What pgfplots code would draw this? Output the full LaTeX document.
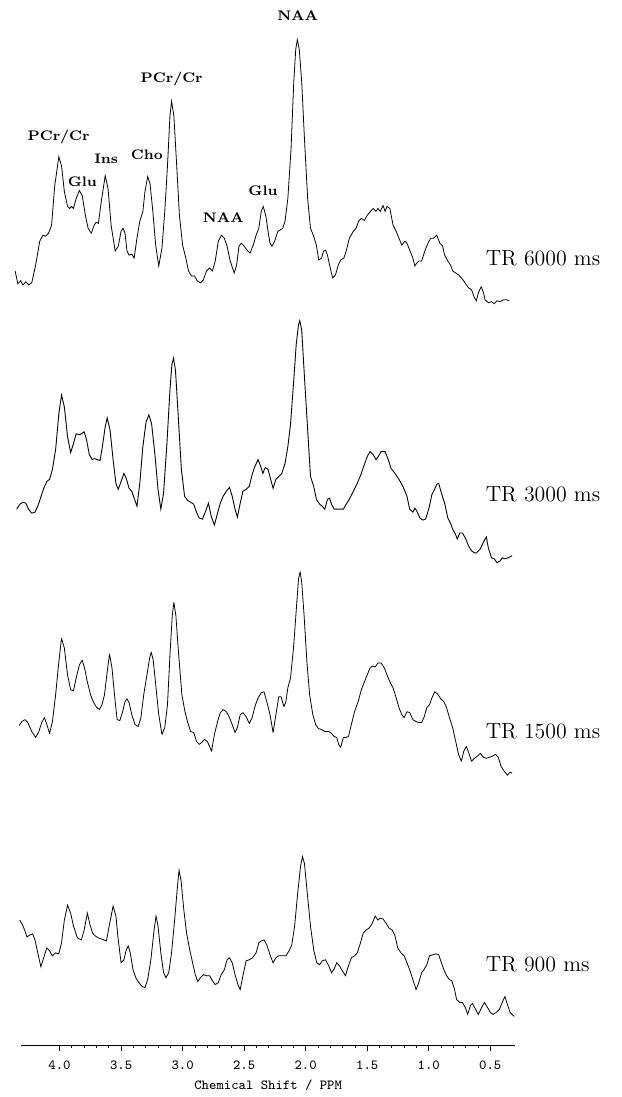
\documentclass[border=0pt]{standalone}
\usepackage{pgfplots}
\pgfplotsset{compat=1.18}
\usepackage{pgfplotstable}

% spectra: chemical shift (ppm) vs. intensity (arbitrary, stacked)
\pgfplotstableread{
ppm I
4.361 824
4.339 811
4.316 814
4.297 810
4.274 813
4.252 810
4.226 812
4.194 830
4.161 854
4.135 860
4.113 859
4.090 862
4.065 870
4.039 910
4.006 939
3.984 930
3.961 904
3.935 889
3.919 887
3.903 889
3.887 887
3.865 897
3.839 905
3.816 900
3.790 880
3.768 867
3.742 862
3.719 870
3.703 873
3.684 872
3.661 894
3.629 920
3.606 907
3.581 870
3.548 844
3.523 849
3.500 864
3.484 867
3.468 862
3.452 844
3.435 840
3.413 841
3.394 837
3.371 857
3.348 874
3.323 884
3.306 904
3.284 919
3.265 912
3.242 884
3.219 850
3.194 829
3.168 847
3.145 884
3.123 930
3.103 980
3.090 995
3.071 980
3.048 930
3.026 880
3.000 850
2.974 837
2.952 824
2.929 819
2.903 819
2.881 814
2.855 812
2.832 815
2.806 824
2.781 827
2.758 824
2.735 834
2.710 854
2.684 860
2.661 857
2.639 849
2.613 834
2.581 822
2.561 830
2.542 849
2.523 852
2.500 849
2.477 845
2.452 842
2.426 850
2.403 860
2.381 867
2.361 884
2.345 889
2.323 879
2.306 864
2.290 852
2.274 849
2.252 854
2.226 864
2.210 865
2.187 867
2.168 874
2.145 897
2.119 947
2.097 1014
2.081 1047
2.068 1057
2.052 1047
2.032 1014
2.010 957
1.984 897
1.961 867
1.935 859
1.913 850
1.894 835
1.871 837
1.855 844
1.839 845
1.823 840
1.806 830
1.781 817
1.758 820
1.735 830
1.716 835
1.690 837
1.671 844
1.645 857
1.613 864
1.590 867
1.571 874
1.548 877
1.523 875
1.500 880
1.474 884
1.452 887
1.429 884
1.413 887
1.394 884
1.371 890
1.355 884
1.339 889
1.316 887
1.290 870
1.265 864
1.242 857
1.219 850
1.194 854
1.177 852
1.155 845
1.129 837
1.113 829
1.097 832
1.081 834
1.058 834
1.032 844
1.006 852
0.984 857
0.961 857
0.935 860
0.910 852
0.887 849
0.871 840
0.845 834
0.823 830
0.806 824
0.781 822
0.758 820
0.735 817
0.716 814
0.694 810
0.677 807
0.652 805
0.629 797
0.613 794
0.597 802
0.574 808
0.555 802
0.542 795
0.516 792
0.490 793
0.468 791
0.445 794
0.419 793
0.394 795
0.371 795
0.345 794
}\trsixk

\pgfplotstableread{
ppm I
4.348 584
4.323 589
4.297 591
4.274 590
4.252 584
4.226 580
4.200 581
4.177 587
4.155 595
4.129 605
4.103 612
4.081 614
4.058 624
4.032 644
4.006 680
3.984 699
3.961 687
3.935 657
3.910 641
3.887 650
3.865 660
3.839 659
3.823 660
3.800 662
3.781 654
3.758 639
3.735 634
3.716 635
3.694 634
3.671 633
3.652 647
3.629 667
3.613 676
3.590 664
3.565 634
3.542 610
3.523 604
3.500 612
3.477 620
3.458 615
3.435 605
3.413 602
3.394 595
3.371 587
3.348 610
3.323 647
3.297 672
3.274 679
3.252 670
3.226 640
3.200 604
3.177 584
3.155 600
3.129 647
3.103 704
3.087 730
3.074 736
3.058 724
3.032 670
3.010 624
2.984 597
2.961 593
2.935 591
2.910 589
2.887 581
2.865 575
2.839 574
2.813 582
2.790 590
2.768 577
2.742 568
2.716 580
2.694 590
2.671 597
2.645 602
2.619 606
2.597 597
2.574 584
2.555 576
2.532 590
2.510 602
2.484 604
2.458 607
2.435 619
2.413 627
2.387 634
2.365 627
2.348 620
2.329 626
2.306 624
2.284 614
2.265 605
2.242 614
2.219 617
2.194 620
2.168 630
2.145 647
2.123 670
2.097 714
2.077 750
2.058 770
2.048 774
2.032 764
2.010 717
1.984 664
1.961 617
1.935 607
1.913 594
1.887 589
1.865 587
1.845 584
1.823 594
1.806 595
1.790 589
1.768 584
1.742 584
1.716 584
1.694 584
1.671 589
1.645 594
1.613 602
1.581 610
1.548 620
1.523 629
1.500 637
1.477 642
1.452 639
1.429 634
1.410 637
1.387 642
1.355 642
1.329 634
1.306 625
1.274 620
1.242 614
1.210 607
1.177 597
1.155 584
1.129 581
1.113 585
1.097 582
1.071 575
1.048 573
1.026 574
1.000 584
0.974 599
0.952 604
0.935 609
0.919 610
0.897 600
0.871 590
0.845 575
0.823 570
0.806 564
0.784 559
0.768 554
0.748 560
0.726 560
0.703 555
0.677 547
0.652 542
0.629 540
0.613 540
0.581 544
0.555 551
0.532 556
0.516 545
0.490 535
0.468 534
0.445 530
0.419 532
0.403 535
0.381 534
0.355 535
0.323 537
}\trthreek

\pgfplotstableread{
ppm I
4.329 366
4.306 370
4.281 372
4.258 369
4.226 360
4.194 354
4.168 360
4.145 369
4.123 374
4.103 367
4.081 358
4.058 370
4.032 397
4.006 430
3.984 454
3.961 444
3.935 417
3.910 402
3.887 401
3.865 414
3.839 427
3.816 432
3.797 424
3.774 410
3.748 397
3.726 390
3.703 385
3.677 382
3.655 387
3.635 397
3.613 420
3.594 438
3.574 424
3.548 390
3.532 372
3.510 371
3.490 379
3.468 390
3.452 393
3.435 389
3.413 377
3.387 367
3.361 365
3.339 374
3.316 397
3.290 417
3.268 434
3.255 440
3.239 432
3.216 404
3.194 377
3.168 357
3.145 364
3.123 387
3.103 437
3.084 477
3.071 490
3.055 477
3.032 437
3.006 397
2.981 380
2.961 370
2.935 360
2.910 359
2.887 350
2.865 347
2.845 349
2.823 352
2.800 350
2.781 345
2.765 340
2.742 357
2.716 370
2.694 379
2.671 382
2.645 380
2.619 374
2.597 367
2.574 359
2.555 364
2.532 377
2.510 379
2.484 375
2.458 368
2.435 374
2.413 385
2.387 394
2.361 399
2.339 400
2.316 390
2.290 377
2.265 359
2.242 377
2.219 395
2.200 395
2.177 385
2.161 390
2.145 404
2.123 414
2.097 447
2.074 487
2.058 514
2.045 521
2.032 510
2.013 477
1.990 430
1.968 397
1.942 377
1.919 367
1.897 363
1.871 362
1.845 360
1.813 360
1.790 358
1.768 355
1.748 354
1.732 347
1.716 344
1.694 354
1.671 354
1.652 355
1.629 367
1.603 380
1.574 390
1.548 402
1.523 410
1.500 417
1.477 424
1.458 426
1.435 425
1.413 429
1.387 429
1.361 424
1.339 417
1.316 410
1.290 404
1.265 394
1.242 384
1.219 377
1.200 374
1.177 380
1.155 379
1.129 372
1.103 370
1.081 369
1.058 369
1.039 374
1.016 384
0.994 387
0.974 394
0.952 400
0.929 398
0.903 393
0.877 390
0.855 384
0.832 374
0.806 364
0.781 350
0.758 337
0.735 330
0.716 340
0.694 345
0.671 337
0.652 330
0.629 333
0.606 335
0.581 338
0.555 334
0.532 333
0.510 334
0.484 335
0.458 337
0.435 334
0.413 325
0.387 320
0.361 316
0.339 319
0.323 318
}\tronefive

\pgfplotstableread{
ppm I
4.323 170
4.300 165
4.281 159
4.265 153
4.242 155
4.219 156
4.200 150
4.177 137
4.152 123
4.129 132
4.103 142
4.081 139
4.058 134
4.032 137
4.006 136
3.984 147
3.961 170
3.935 185
3.910 177
3.887 164
3.855 152
3.823 150
3.800 160
3.774 177
3.752 165
3.732 157
3.710 154
3.684 152
3.661 151
3.639 150
3.619 149
3.597 164
3.565 184
3.542 174
3.523 150
3.500 127
3.477 130
3.458 140
3.442 144
3.426 137
3.403 120
3.381 112
3.355 107
3.329 103
3.306 102
3.284 110
3.258 130
3.232 160
3.216 174
3.200 164
3.177 137
3.155 117
3.135 112
3.113 117
3.090 137
3.065 170
3.042 204
3.029 220
3.013 210
2.990 180
2.968 157
2.942 140
2.919 127
2.897 115
2.877 108
2.855 112
2.832 115
2.806 114
2.781 114
2.758 109
2.735 105
2.710 107
2.687 115
2.661 120
2.639 130
2.619 132
2.597 127
2.574 115
2.548 104
2.532 100
2.510 114
2.484 129
2.458 130
2.432 132
2.403 137
2.381 147
2.361 149
2.339 150
2.316 145
2.290 135
2.265 127
2.242 132
2.219 134
2.187 134
2.161 134
2.135 139
2.113 145
2.090 164
2.065 197
2.042 224
2.026 234
2.010 227
1.987 197
1.961 164
1.935 140
1.910 127
1.887 125
1.865 129
1.839 130
1.813 124
1.790 117
1.768 121
1.748 127
1.726 124
1.703 119
1.677 114
1.652 124
1.629 132
1.603 134
1.581 137
1.555 147
1.532 157
1.510 160
1.484 162
1.458 167
1.435 174
1.413 170
1.394 172
1.371 171
1.348 167
1.323 162
1.297 160
1.274 154
1.252 142
1.226 137
1.200 134
1.177 127
1.155 120
1.129 110
1.103 100
1.081 107
1.058 117
1.039 120
1.016 125
0.994 134
0.968 135
0.942 136
0.919 135
0.897 127
0.877 120
0.855 114
0.832 110
0.813 109
0.790 100
0.774 90
0.748 87
0.726 87
0.703 82
0.684 75
0.661 84
0.645 86
0.619 80
0.597 75
0.574 81
0.548 87
0.523 82
0.500 77
0.477 75
0.452 77
0.426 80
0.403 87
0.381 93
0.361 85
0.339 77
0.306 73
}\trnine

\begin{document}
\begin{tikzpicture}
\begin{axis}[
  scale only axis,
  width=248.6pt, height=526.5pt,
  x dir=reverse,
  xmin=0.30, xmax=4.31,
  ymin=44, ymax=1097,
  axis x line=bottom,
  axis y line=none,
  axis line style={-, line width=0.5pt},
  clip=false,
  xtick={0.5,1.0,...,4.0},
  minor x tick num=4,
  tick align=outside,
  major tick length=3pt,
  minor tick length=1.6pt,
  tick style={line width=0.4pt, black},
  xticklabel style={font=\ttfamily\fontsize{7}{8}\selectfont, yshift=-1.5pt,
    /pgf/number format/fixed, /pgf/number format/fixed zerofill,
    /pgf/number format/precision=1, /pgf/number format/assume math mode=true},
  xlabel={Chemical Shift / PPM},
  xlabel style={font=\ttfamily\fontsize{7}{8}\selectfont, yshift=2pt},
  cycle list={{black, line width=0.45pt, line join=round, mark=none}},
]
\addplot table[x=ppm, y=I] {\trsixk};
\addplot table[x=ppm, y=I] {\trthreek};
\addplot table[x=ppm, y=I] {\tronefive};
\addplot table[x=ppm, y=I] {\trnine};

% peak assignments (top spectrum)
\begin{scope}[every node/.style={font=\bfseries\fontsize{7}{8}\selectfont, inner sep=0pt}]
\node at (axis cs:2.065,1081) {NAA};
\node at (axis cs:3.089,1017) {PCr/Cr};
\node at (axis cs:4.008,959) {PCr/Cr};
\node at (axis cs:3.621,937) {Ins};
\node at (axis cs:3.290,941) {Cho};
\node at (axis cs:3.815,914) {Glu};
\node at (axis cs:2.669,878) {NAA};
\node at (axis cs:2.347,905) {Glu};
\end{scope}

% repetition times
\begin{scope}[every node/.style={font=\fontsize{11}{12}\selectfont, anchor=west, inner sep=0pt}]
\node at (axis cs:0.54,837) {TR 6000 ms};
\node at (axis cs:0.54,599) {TR 3000 ms};
\node at (axis cs:0.54,360) {TR 1500 ms};
\node at (axis cs:0.54,125) {TR 900 ms};
\end{scope}

% page extent
\path (axis cs:4.484,0) rectangle (axis cs:-0.565,1097);
\end{axis}
\end{tikzpicture}
\end{document}
